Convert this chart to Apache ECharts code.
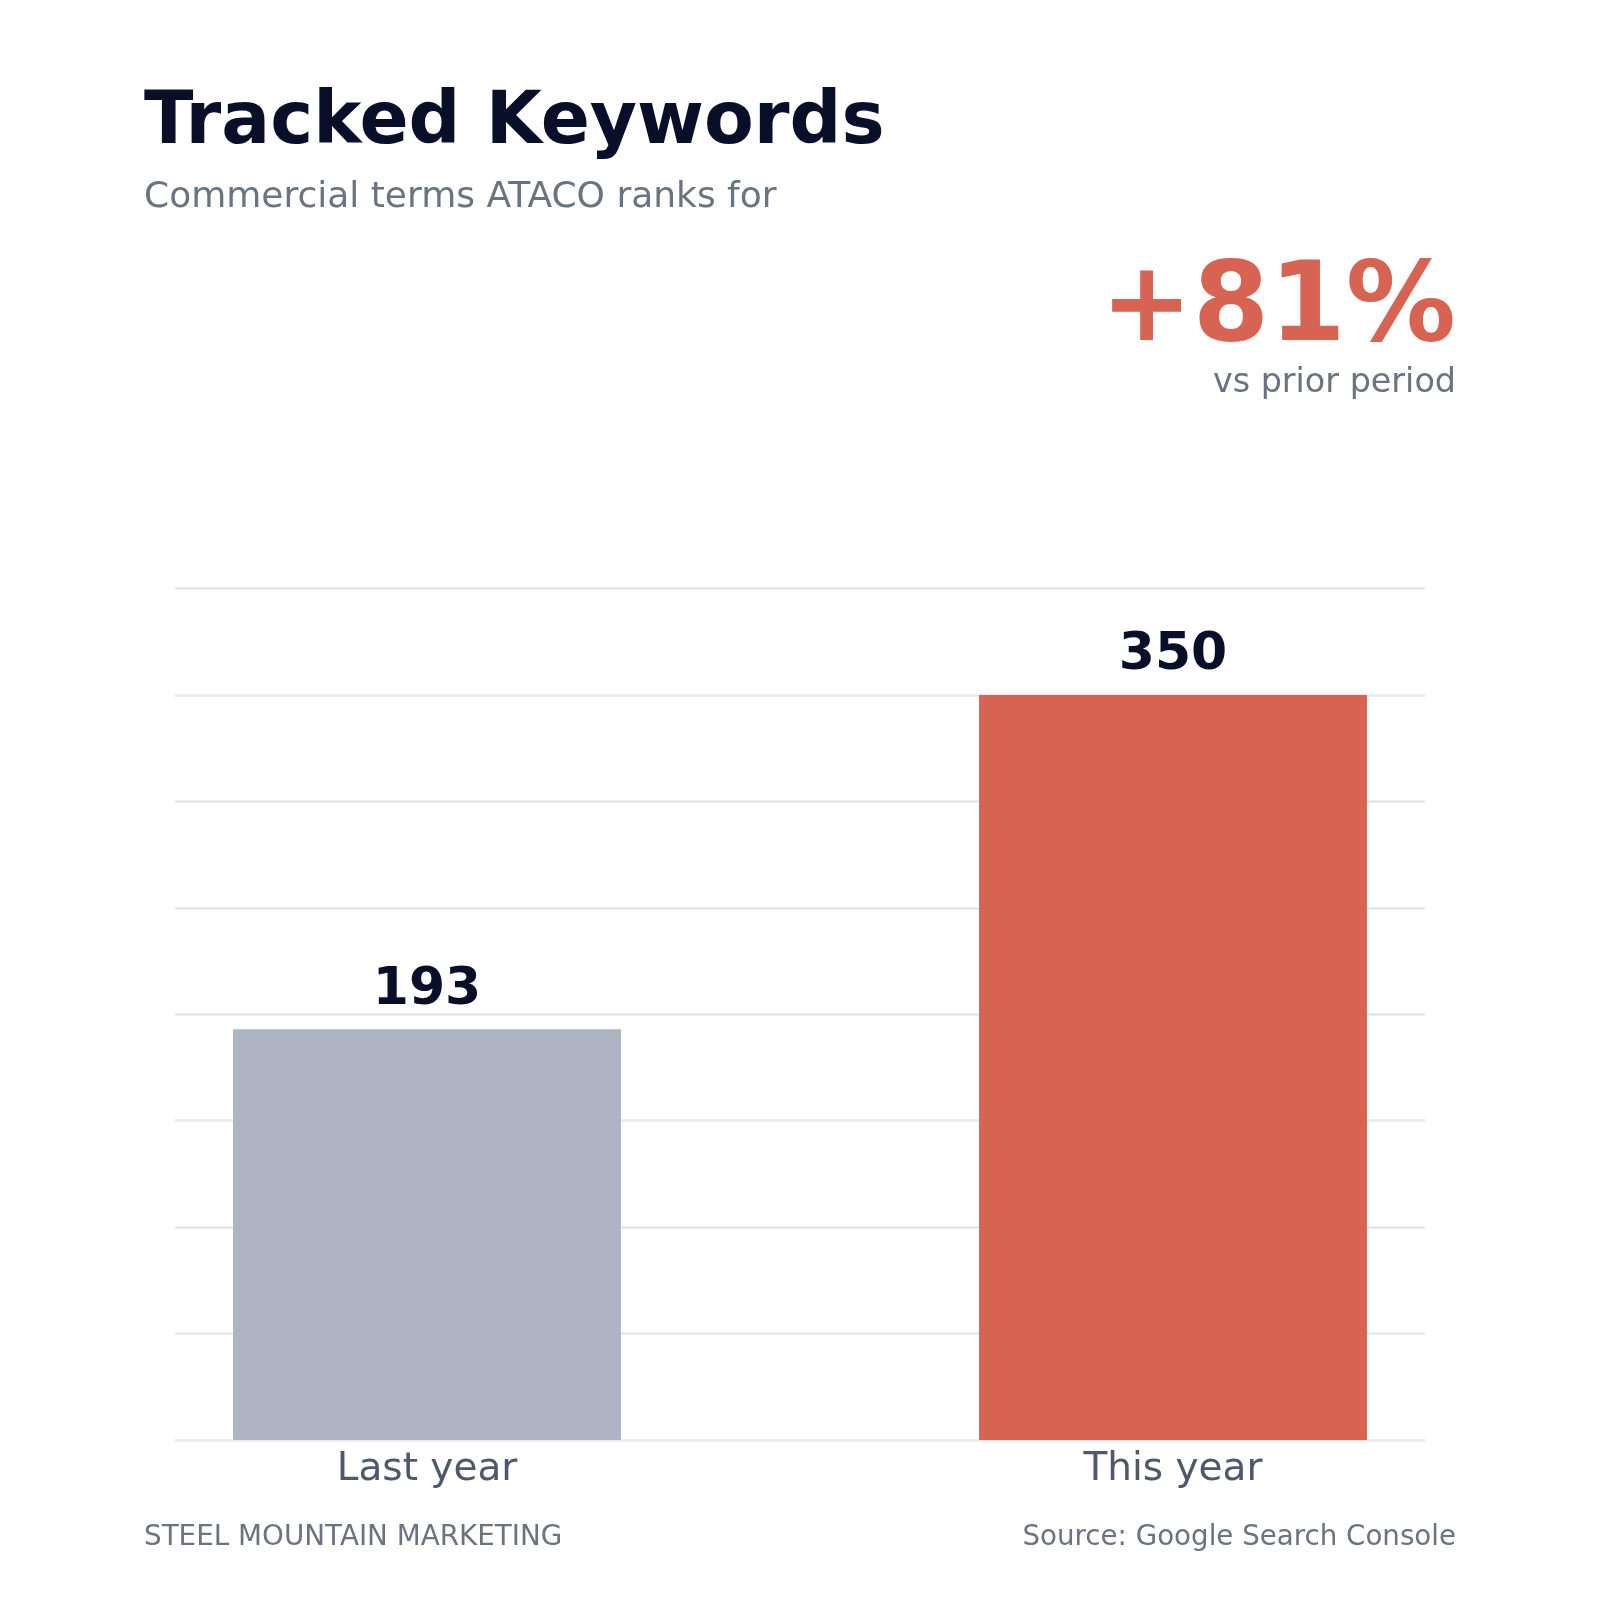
<!DOCTYPE html>
<html>
<head>
<meta charset="utf-8">
<script src="https://cdn.jsdelivr.net/npm/echarts@6/dist/echarts.min.js"></script>
<style>
html,body{margin:0;padding:0;background:#fff;}
#c{width:1600px;height:1600px;}
</style>
</head>
<body>
<div id="c"></div>
<script>
const categories = ['Last year', 'This year'];
const values = [193, 350];
const barColors = ['#aeb4c1', '#d76453'];
const yTicks = [0, 50, 100, 150, 200, 250, 300, 350, 400];
const titleText = 'Tracked Keywords';
const subtitleText = 'Commercial terms ATACO ranks for';
const deltaText = '+81%';
const deltaSub = 'vs prior period';
const footLeft = 'STEEL MOUNTAIN MARKETING';
const footRight = 'Source: Google Search Console';

const FONT = 'DejaVu Sans';
const chart = echarts.init(document.getElementById('c'), null, {renderer: 'canvas'});
const yMin = yTicks[0], yMax = yTicks[yTicks.length - 1], yInt = yTicks[1] - yTicks[0];

chart.setOption({
  backgroundColor: '#ffffff',
  animation: false,
  grid: [
    {left: 175, right: 175, top: 588.5, bottom: 160},
    {left: 54, right: 54, top: 588.5, bottom: 160}
  ],
  xAxis: [
    {gridIndex: 0, type: 'value', min: 0, max: 1, show: false},
    {gridIndex: 1, type: 'category', data: categories,
     axisLine: {show: false}, axisTick: {show: false},
     axisLabel: {fontFamily: FONT, fontSize: 39, color: '#4f586b', margin: 10}}
  ],
  yAxis: [
    {gridIndex: 0, type: 'value', min: yMin, max: yMax, interval: yInt,
     axisLine: {show: false}, axisTick: {show: false}, axisLabel: {show: false},
     splitLine: {show: true, lineStyle: {color: '#e5e7eb', width: 2.5}}},
    {gridIndex: 1, type: 'value', min: yMin, max: yMax, interval: yInt, show: false,
     splitLine: {show: false}}
  ],
  series: [{
    type: 'bar', xAxisIndex: 1, yAxisIndex: 1, barWidth: '52%',
    data: values.map((v, i) => ({value: v, itemStyle: {color: barColors[i]}})),
    label: {show: true, position: 'top', distance: 13, fontFamily: FONT,
            fontSize: 52, fontWeight: 'bold', color: '#0a0f29'}
  }],
  graphic: [
    {type: 'text', x: 144, y: 124, style: {text: titleText, fontFamily: FONT, fontSize: 72.5, fontWeight: 'bold', fill: '#0a0f29', verticalAlign: 'middle', align: 'left'}},
    {type: 'text', x: 144, y: 198, style: {text: subtitleText, fontFamily: FONT, fontSize: 36, fill: '#6b7280', verticalAlign: 'middle', align: 'left'}},
    {type: 'text', x: 1456, y: 311, style: {text: deltaText, fontFamily: FONT, fontSize: 110, fontWeight: 'bold', fill: '#d76453', verticalAlign: 'middle', align: 'right'}},
    {type: 'text', x: 1456, y: 383, style: {text: deltaSub, fontFamily: FONT, fontSize: 33.4, fill: '#6b7280', verticalAlign: 'middle', align: 'right'}},
    {type: 'text', x: 144, y: 1538, style: {text: footLeft, fontFamily: FONT, fontSize: 27.8, fill: '#6b7280', verticalAlign: 'middle', align: 'left'}},
    {type: 'text', x: 1456, y: 1538, style: {text: footRight, fontFamily: FONT, fontSize: 27.7, fill: '#6b7280', verticalAlign: 'middle', align: 'right'}}
  ]
});
</script>
</body>
</html>
